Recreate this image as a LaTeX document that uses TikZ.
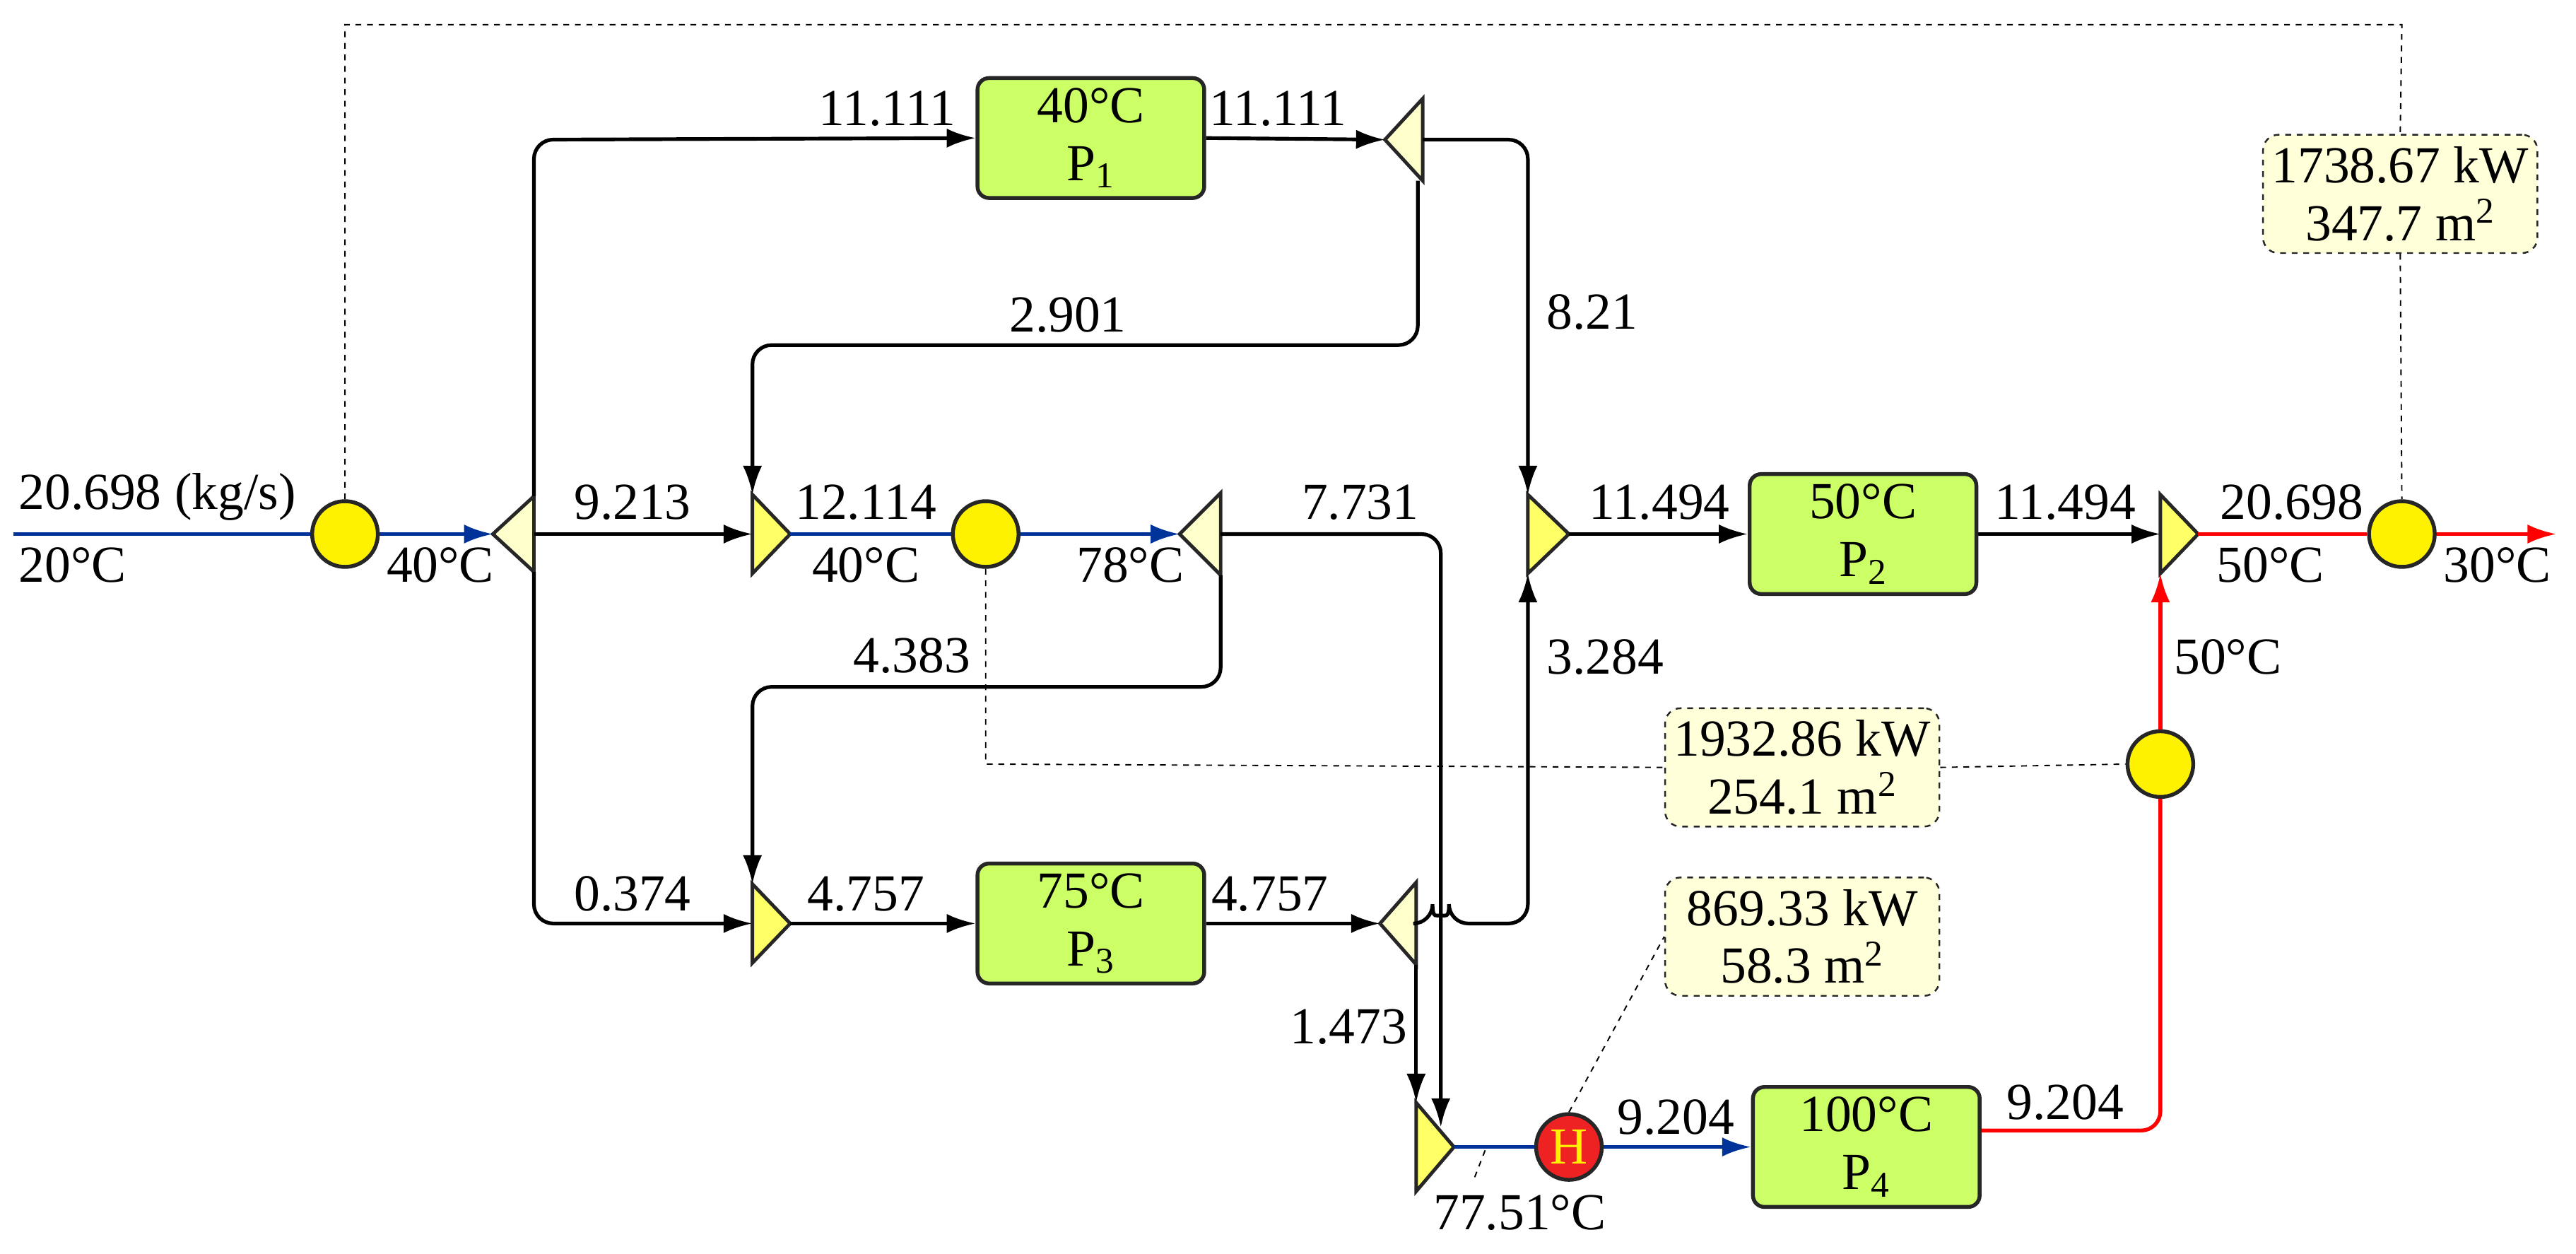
\documentclass[tikz,border=0pt]{standalone}
\usepackage{fontspec}
\setmainfont{Liberation Serif}
\usetikzlibrary{arrows.meta}
\definecolor{pg}{HTML}{CCFF66}
\definecolor{ly}{HTML}{FFFFCC}
\definecolor{my}{HTML}{FFFF66}
\definecolor{bx}{HTML}{FFFFD9}
\definecolor{bl}{HTML}{003399}
\definecolor{hr}{HTML}{EE2222}
\begin{document}
\begin{tikzpicture}[x=0.03cm,y=-0.03cm,
 every node/.style={font=\fontsize{27}{30}\selectfont},
 lab/.style={inner sep=1pt},
 proc/.style={draw=black!85,line width=2pt,fill=pg,rounded corners=6pt,minimum width=138*0.03cm,minimum height=73*0.03cm,align=center,inner sep=0pt},
 info/.style={draw=black!85,dashed,line width=0.9pt,fill=bx,rounded corners=8pt,minimum width=167*0.03cm,minimum height=72*0.03cm,align=center,inner sep=0pt},
 hx/.style={circle,draw=black!85,line width=2pt,fill=yellow,minimum size=40*0.03cm,inner sep=0pt},
 ln/.style={line width=1.9pt,rounded corners=10pt},
 ar/.style={ln,-{Latex[length=15pt,width=10pt]}},
 bln/.style={line width=2pt,color=bl},
 rln/.style={line width=2pt,color=red,rounded corners=10pt},
 dl/.style={dashed,line width=0.7pt},
 tri/.style={draw=black!85,line width=1.8pt,line join=miter}
]
\useasboundingbox (0,0) rectangle (1568,763);
% process units
\node[proc] (P1) at (664,84) {40°C\\P\textsubscript{1}};
\node[proc] (P2) at (1134,325) {50°C\\P\textsubscript{2}};
\node[proc] (P3) at (664,562) {75°C\\P\textsubscript{3}};
\node[proc] (P4) at (1136,698) {100°C\\P\textsubscript{4}};
% heat exchangers
\node[hx] (C1) at (210,325) {};
\node[hx] (C2) at (600,325) {};
\node[hx] (C5) at (1462,325) {};
\node[hx] (C4) at (1315,465) {};
\node[hx,fill=hr] (H) at (955,698) {\color{yellow}H};
% info boxes
\node[info] (B1) at (1461,118) {1738.67 kW\\347.7 m\textsuperscript{2}};
\node[info] (B2) at (1097,467) {1932.86 kW\\254.1 m\textsuperscript{2}};
\node[info] (B3) at (1097,570) {869.33 kW\\58.3 m\textsuperscript{2}};
% splitters (point left)
\coordinate (S1) at (300,325); \filldraw[tri,fill=ly] (S1) -- (325,302) -- (325,348) -- cycle;
\coordinate (S2) at (843,85);  \filldraw[tri,fill=ly] (S2) -- (866,60) -- (866,110) -- cycle;
\coordinate (S3) at (718,325); \filldraw[tri,fill=ly] (S3) -- (743,300) -- (743,350) -- cycle;
\coordinate (S4) at (840,562); \filldraw[tri,fill=ly] (S4) -- (862,537) -- (862,587) -- cycle;
% mixers (point right)
\coordinate (M1) at (458,325); \filldraw[tri,fill=my] (M1) ++(0,-24) -- (481,325) -- (458,349) -- cycle;
\coordinate (M2) at (930,325); \filldraw[tri,fill=my] (M2) ++(0,-24) -- (955,325) -- (930,349) -- cycle;
\coordinate (M3) at (458,562); \filldraw[tri,fill=my] (M3) ++(0,-24) -- (481,562) -- (458,586) -- cycle;
\coordinate (M4) at (862,698); \filldraw[tri,fill=my] (M4) ++(0,-27) -- (885,698) -- (862,725) -- cycle;
\coordinate (M5) at (1315,325); \filldraw[tri,fill=my] (M5) ++(0,-24) -- (1338,325) -- (1315,349) -- cycle;
% inlet
\coordinate (IN) at (8,325);
\coordinate (OUT) at (1556,325);
\draw[bln] (IN) -- (C1);
\draw[bln,-{Latex[length=15pt,width=10pt]}] (C1) -- (S1);
\node[lab,anchor=south west] at (10,318) {20.698 (kg/s)};
\node[lab,anchor=north west] at (10,332) {20°C};
\node[lab,anchor=north] at (268,332) {40°C};
% splitter S1 branches
\draw[ar] (325,325) -- (M1);
\node[lab,anchor=south] at (385,318) {9.213};
\draw[ar] (325,348) -- (325,562) -- (M3);
\node[lab,anchor=south] at (385,556) {0.374};
\draw[ar] (325,302) -- (325,85) -- (P1.west);
\node[lab,anchor=south] at (540,78) {11.111};
% P1 -> S2
\draw[ar] (P1.east) -- (S2);
\node[lab,anchor=south] at (778,78) {11.111};
\draw[ar] (866,85) -- (930,85) -- (930,301);
\node[lab,anchor=west] at (940,190) {8.21};
\draw[ar] (863,110) -- (863,210) -- (458,210) -- (458,301);
\node[lab,anchor=south] at (650,204) {2.901};
% M1 -> C2 -> S3
\draw[bln] (481,325) -- (C2);
\draw[bln,-{Latex[length=15pt,width=10pt]}] (C2) -- (S3);
\node[lab,anchor=south] at (527,318) {12.114};
\node[lab,anchor=north] at (527,332) {40°C};
\node[lab,anchor=north] at (688,332) {78°C};
\draw[ar] (743,325) -- (877,325) -- (877,686);
\node[lab,anchor=south] at (828,318) {7.731};
\draw[ar] (743,350) -- (743,418) -- (458,418) -- (458,538);
\node[lab,anchor=south] at (555,411) {4.383};
% M3 -> P3 -> S4
\draw[ar] (481,562) -- (P3.west);
\node[lab,anchor=south] at (527,556) {4.757};
\draw[ar] (P3.east) -- (S4);
\node[lab,anchor=south] at (773,556) {4.757};
\draw[ar] (862,562) -- (872,562) arc (180:360:5) [rounded corners=10pt]-- (930,562) -- (930,349);
\node[lab,anchor=west] at (940,400) {3.284};
\draw[ar] (862,587) -- (862,671);
\node[lab,anchor=east] at (858,625) {1.473};
% M2 -> P2 -> M5
\draw[ar] (955,325) -- (P2.west);
\node[lab,anchor=south] at (1010,318) {11.494};
\draw[ar] (P2.east) -- (M5);
\node[lab,anchor=south] at (1257,318) {11.494};
\draw[rln] (1338,325) -- (C5);
\draw[rln,-{Latex[length=15pt,width=10pt]}] (C5) -- (OUT);
\node[lab,anchor=south] at (1395,318) {20.698};
\node[lab,anchor=north] at (1382,332) {50°C};
\node[lab,anchor=north] at (1520,332) {30°C};
% M4 -> H -> P4 -> C4 -> M5
\draw[bln] (885,698) -- (H);
\draw[bln,-{Latex[length=15pt,width=10pt]}] (H) -- (P4.west);
\node[lab,anchor=south] at (1020,692) {9.204};
\node[lab,anchor=south] at (1257,683) {9.204};
\node[lab,anchor=north] at (925,726) {77.51°C};
\draw[dl] (904,700) -- (897,718);
\draw[rln] (P4.east |- 0,688) -- (1315,688) -- (C4);
\draw[rln,-{Latex[length=15pt,width=10pt]}] (C4) -- (1315,349);
\node[lab,anchor=west] at (1322,400) {50°C};
% dashed info links
\draw[dl] (C1.north) -- (210,15) -- (1462,15) -- (B1.north);
\draw[dl] (B1.south) -- (C5.north);
\draw[dl] (C2.south) -- (600,465) -- (B2.west);
\draw[dl] (B2.east) -- (C4.west);
\draw[dl] (H.north) -- (B3.west);
\end{tikzpicture}
\end{document}
